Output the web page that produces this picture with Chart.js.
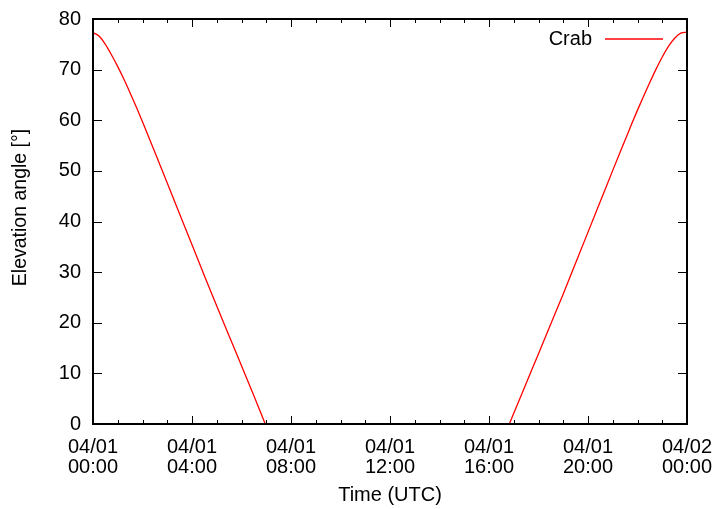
<!DOCTYPE html>
<html>
<head>
<meta charset="utf-8">
<script src="https://cdn.jsdelivr.net/npm/chart.js@4/dist/chart.umd.min.js"></script>
<style>
  html, body { margin: 0; padding: 0; background: #fff; }
  #wrap { width: 715px; height: 509px; position: relative; }
</style>
</head>
<body>
<div id="wrap"><canvas id="chart" width="715" height="509"></canvas></div>
<script>
// data (hours since 04/01 00:00 UTC, elevation in degrees)
const setHours = [0, 0.25, 0.5, 0.75, 1, 1.25, 1.5, 1.75, 2, 2.5, 3, 3.5, 4, 4.5, 5, 5.5, 6, 6.5, 6.96]
const setElev = [77.3, 76.6, 75.0, 72.9, 70.6, 68.1, 65.4, 62.6, 59.7, 53.7, 47.6, 41.5, 35.4, 29.3, 23.3, 17.4, 11.5, 5.6, 0]
const riseHours = [16.82, 17, 17.5, 18, 18.5, 19, 19.5, 20, 20.5, 21, 21.5, 21.75, 22, 22.25, 22.5, 22.75, 23, 23.25, 23.5, 23.75, 24]
const riseElev = [0, 2.1, 8.0, 13.9, 19.8, 25.7, 31.8, 37.9, 44.0, 50.1, 56.1, 59.1, 62.0, 64.8, 67.5, 70.1, 72.5, 74.6, 76.2, 77.2, 77.4]

const xTicks = [0, 4, 8, 12, 16, 20, 24]
const xTickLabels = [
  ['04/01', '00:00'], ['04/01', '04:00'], ['04/01', '08:00'], ['04/01', '12:00'],
  ['04/01', '16:00'], ['04/01', '20:00'], ['04/02', '00:00'],
]
const seriesName = 'Crab'
const yTitle = 'Elevation angle [°]'

const FONT = 'Liberation Sans, Arial, Helvetica, sans-serif'

const points = []
setHours.forEach((h, i) => points.push({ x: h, y: setElev[i] }))
points.push({ x: 12, y: null })
riseHours.forEach((h, i) => points.push({ x: h, y: riseElev[i] }))

// gnuplot style frame with inward ticks on all four sides, plus legend in the corner
const framePlugin = {
  id: 'frame',
  afterDatasetsDraw(chart) {
    const { ctx, chartArea: a, scales } = chart
    const xs = scales.x
    const ys = scales.y
    ctx.save()
    ctx.strokeStyle = '#000'
    ctx.lineWidth = 1
    ctx.beginPath()
    for (let h = 0; h <= 24; h++) {
      const px = Math.round(xs.getPixelForValue(h)) + 0.5
      const len = h % 4 === 0 ? 8 : 4
      ctx.moveTo(px, a.bottom)
      ctx.lineTo(px, a.bottom - len)
      ctx.moveTo(px, a.top)
      ctx.lineTo(px, a.top + len)
    }
    for (let v = 0; v <= 80; v += 10) {
      const py = Math.round(ys.getPixelForValue(v)) + 0.5
      ctx.moveTo(a.left, py)
      ctx.lineTo(a.left + 9, py)
      ctx.moveTo(a.right, py)
      ctx.lineTo(a.right - 9, py)
    }
    ctx.stroke()
    ctx.lineWidth = 2
    ctx.strokeRect(a.left, a.top, a.right - a.left, a.bottom - a.top)

    // legend
    const ly = a.top + 20
    ctx.font = '20px ' + FONT
    ctx.fillStyle = '#000'
    ctx.textAlign = 'right'
    ctx.textBaseline = 'middle'
    ctx.fillText(seriesName, a.right - 95, ly)
    ctx.strokeStyle = '#ff0000'
    ctx.lineWidth = 1.3
    ctx.beginPath()
    ctx.moveTo(a.right - 82, ly)
    ctx.lineTo(a.right - 24, ly)
    ctx.stroke()

    // y axis title, gnuplot puts it a bit above the middle
    ctx.translate(21, (a.top + a.bottom) / 2 - 14)
    ctx.rotate(-Math.PI / 2)
    ctx.textAlign = 'center'
    ctx.font = '19.5px ' + FONT
    ctx.fillText(yTitle, 0, 0)
    ctx.restore()
  },
}

new Chart(document.getElementById('chart'), {
  type: 'line',
  data: {
    datasets: [{
      label: seriesName,
      data: points,
      borderColor: '#ff0000',
      borderWidth: 1.3,
      pointRadius: 0,
      fill: false,
      spanGaps: false,
      cubicInterpolationMode: 'monotone',
    }],
  },
  options: {
    responsive: false,
    animation: false,
    layout: { padding: { top: 19, right: 28, left: 0, bottom: 0 } },
    plugins: {
      legend: { display: false },
      tooltip: { enabled: false },
    },
    scales: {
      x: {
        type: 'linear',
        min: 0,
        max: 24,
        afterBuildTicks(scale) {
          scale.ticks = xTicks.map(v => ({ value: v }))
        },
        afterFit(scale) {
          scale.height = 85
          scale.paddingLeft = 0
          scale.paddingRight = 0
        },
        grid: { display: false, drawTicks: false },
        border: { display: false },
        ticks: {
          padding: 14,
          maxRotation: 0,
          autoSkip: false,
          color: '#000',
          font: { family: FONT, size: 20, lineHeight: 0.98 },
          callback: (v) => xTickLabels[xTicks.indexOf(v)],
        },
        title: {
          display: true,
          text: 'Time (UTC)',
          color: '#000',
          font: { family: FONT, size: 20 },
          padding: { top: 0, bottom: 2 },
        },
      },
      y: {
        min: 0,
        max: 80,
        afterFit(scale) {
          scale.width = 93
          scale.paddingTop = 0
          scale.paddingBottom = 0
        },
        grid: { display: false, drawTicks: false },
        border: { display: false },
        ticks: {
          stepSize: 10,
          padding: 12,
          color: '#000',
          font: { family: FONT, size: 20 },
        },
        title: { display: false },
      },
    },
  },
  plugins: [framePlugin],
})
</script>
</body>
</html>
